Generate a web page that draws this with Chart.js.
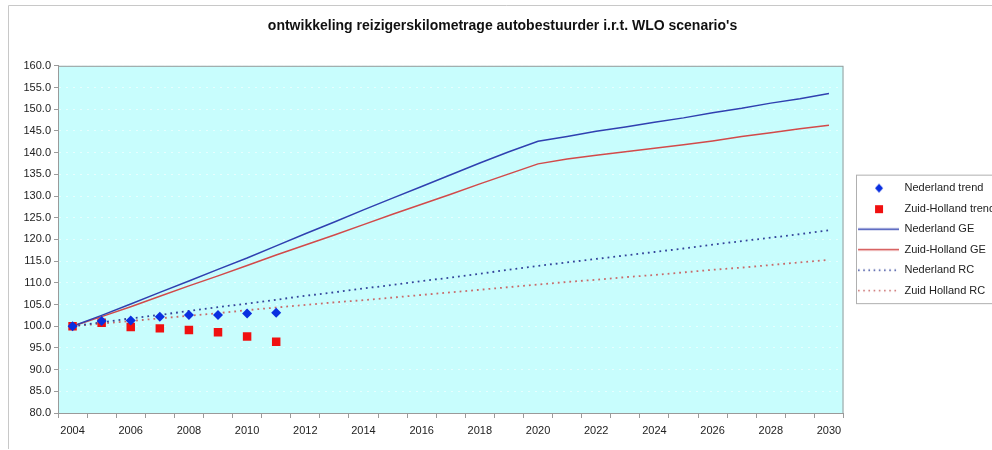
<!DOCTYPE html>
<html>
<head>
<meta charset="utf-8">
<script src="https://cdn.jsdelivr.net/npm/chart.js@4/dist/chart.umd.min.js"></script>
<style>
  html, body { margin: 0; padding: 0; background: #fff; overflow: hidden; }
  #wrap { position: relative; width: 1005px; height: 450px; }
</style>
</head>
<body>
<div id="wrap"><canvas id="wlo-chart"></canvas></div>
<script>
const years = [
  "2004", "2005", "2006", "2007", "2008", "2009", "2010", "2011", "2012",
  "2013", "2014", "2015", "2016", "2017", "2018", "2019", "2020", "2021",
  "2022", "2023", "2024", "2025", "2026", "2027", "2028", "2029", "2030",
];
const nederlandTrend = [100.0, 101.2, 101.3, 102.2, 102.6, 102.6, 102.9, 103.1];
const zuidHollandTrend = [100.0, 100.8, 99.8, 99.5, 99.1, 98.6, 97.6, 96.4];
const nederlandGE = [
  100.0, 102.5, 105.1, 107.8, 110.4, 113.1, 115.7, 118.5, 121.3,
  124.0, 126.8, 129.5, 132.2, 134.9, 137.6, 140.2, 142.6, 143.7,
  144.9, 145.9, 147.0, 148.0, 149.2, 150.2, 151.4, 152.4, 153.6,
];
const zuidHollandGE = [
  100.0, 102.2, 104.5, 106.9, 109.3, 111.6, 114.0, 116.4, 118.7,
  121.0, 123.4, 125.8, 128.1, 130.4, 132.8, 135.1, 137.4, 138.5,
  139.4, 140.2, 141.0, 141.8, 142.7, 143.7, 144.6, 145.5, 146.3,
];
const nederlandRC = [
  100.0, 100.9, 101.8, 102.6, 103.5, 104.4, 105.2, 106.1, 107.0,
  107.8, 108.7, 109.5, 110.4, 111.2, 112.1, 113.0, 113.9, 114.7,
  115.5, 116.3, 117.1, 117.9, 118.8, 119.6, 120.4, 121.2, 122.1,
];
const zuidHollandRC = [
  100.0, 100.6, 101.2, 101.8, 102.4, 103.0, 103.7, 104.3, 104.9,
  105.5, 106.0, 106.6, 107.2, 107.8, 108.4, 109.0, 109.6, 110.2,
  110.7, 111.3, 111.8, 112.4, 113.0, 113.5, 114.1, 114.7, 115.3,
];

// small canvases used as legend symbols (46 x 11)
function legendSymbol(kind, color) {
  const c = document.createElement("canvas");
  c.width = 46;
  c.height = 11;
  const g = c.getContext("2d");
  g.fillStyle = color;
  g.strokeStyle = color;
  if (kind === "diamond") {
    g.beginPath();
    g.moveTo(26, 1); g.lineTo(30, 5.5); g.lineTo(26, 10); g.lineTo(22, 5.5);
    g.closePath();
    g.fill();
  } else if (kind === "square") {
    g.fillRect(22, 2, 8, 8);
  } else {
    g.lineWidth = kind === "dotted" ? 1.6 : 1.5;
    if (kind === "dotted") g.setLineDash([1.6, 3.6]);
    g.beginPath();
    g.moveTo(5, 5.5);
    g.lineTo(46, 5.5);
    g.stroke();
  }
  return c;
}

const symbols = [
  legendSymbol("diamond", "#0a2fe0"),
  legendSymbol("square", "#f01010"),
  legendSymbol("line", "#3040b0"),
  legendSymbol("line", "#d24a4a"),
  legendSymbol("dotted", "#33449a"),
  legendSymbol("dotted", "#c86a6a"),
];

const frameAndPlot = {
  id: "frameAndPlot",
  beforeDraw(chart) {
    const { ctx, chartArea: a } = chart;
    ctx.save();
    ctx.strokeStyle = "#c8c8c8";
    ctx.lineWidth = 1;
    ctx.beginPath();
    ctx.moveTo(8.5, 449);
    ctx.lineTo(8.5, 5.5);
    ctx.lineTo(1004, 5.5);
    ctx.stroke();
    ctx.fillStyle = "#c8fdfd";
    ctx.fillRect(a.left, a.top, a.right - a.left, a.bottom - a.top);
    ctx.restore();
  },
  afterDatasetsDraw(chart) {
    const { ctx, chartArea: a } = chart;
    ctx.save();
    ctx.strokeStyle = "#9a9a9a";
    ctx.lineWidth = 1;
    ctx.strokeRect(a.left + 0.5, a.top + 0.5, a.right - a.left - 1, a.bottom - a.top);
    const boxes = chart.legend.legendHitBoxes;
    if (boxes && boxes.length) {
      const first = boxes[0];
      const last = boxes[boxes.length - 1];
      ctx.strokeStyle = "#b0b0b0";
      ctx.strokeRect(first.left + 3.5, first.top - 7.5, 200, last.top + last.height - first.top + 15);
    }
    ctx.restore();
  },
};

const ctx = document.getElementById("wlo-chart").getContext("2d");

new Chart(ctx, {
  type: "line",
  data: {
    labels: years,
    datasets: [
      {
        label: "Nederland trend",
        data: nederlandTrend,
        showLine: false,
        pointStyle: "rectRot",
        pointRadius: 5,
        backgroundColor: "#0a2fe0",
        borderColor: "#0a2fe0",
        borderWidth: 0,
      },
      {
        label: "Zuid-Holland trend",
        data: zuidHollandTrend,
        showLine: false,
        pointStyle: "rect",
        pointRadius: 6,
        backgroundColor: "#f01010",
        borderColor: "#f01010",
        borderWidth: 0,
      },
      {
        label: "Nederland GE",
        data: nederlandGE,
        borderColor: "#3040b0",
        borderWidth: 1.5,
        pointRadius: 0,
        fill: false,
      },
      {
        label: "Zuid-Holland GE",
        data: zuidHollandGE,
        borderColor: "#d24a4a",
        borderWidth: 1.5,
        pointRadius: 0,
        fill: false,
      },
      {
        label: "Nederland RC",
        data: nederlandRC,
        borderColor: "#33449a",
        borderWidth: 1.8,
        borderDash: [1.8, 4],
        pointRadius: 0,
        fill: false,
      },
      {
        label: "Zuid Holland RC",
        data: zuidHollandRC,
        borderColor: "#c86a6a",
        borderWidth: 1.8,
        borderDash: [1.8, 4],
        pointRadius: 0,
        fill: false,
      },
    ],
  },
  options: {
    responsive: true,
    maintainAspectRatio: false,
    animation: false,
    events: [],
    layout: { padding: { left: 0, right: 0, top: 0, bottom: 0 } },
    font: { family: "'Liberation Sans', Arial, sans-serif", size: 11 },
    plugins: {
      title: {
        display: true,
        text: "ontwikkeling reizigerskilometrage autobestuurder i.r.t. WLO scenario's",
        color: "#111",
        font: { family: "'Liberation Sans', Arial, sans-serif", size: 14, weight: "bold" },
        padding: { top: 18, bottom: 31 },
      },
      legend: {
        position: "right",
        fullSize: false,
        labels: {
          color: "#222",
          font: { family: "'Liberation Sans', Arial, sans-serif", size: 11 },
          usePointStyle: true,
          pointStyleWidth: 46,
          padding: 9.5,
          generateLabels(chart) {
            return chart.data.datasets.map((ds, i) => ({
              text: ds.label,
              pointStyle: symbols[i],
              fillStyle: "transparent",
              strokeStyle: "transparent",
              lineWidth: 0,
              fontColor: "#222",
              datasetIndex: i,
              hidden: false,
            }));
          },
        },
      },
      tooltip: { enabled: false },
    },
    scales: {
      x: {
        type: "category",
        offset: true,
        grid: {
          display: true,
          offset: true,
          drawOnChartArea: false,
          drawTicks: true,
          tickLength: 5,
          color: "#9a9a9a",
        },
        border: { color: "#9a9a9a" },
        ticks: {
          autoSkip: false,
          maxRotation: 0,
          padding: 6,
          color: "#222",
          font: { family: "'Liberation Sans', Arial, sans-serif", size: 11 },
          callback(value, index) {
            return index % 2 === 0 ? years[index] : "";
          },
        },
        afterFit(scale) {
          scale.height = 37;
        },
      },
      y: {
        min: 80,
        max: 160,
        grid: {
          color: "rgba(255,255,255,0.55)",
          lineWidth: 1,
          tickLength: 4,
          tickColor: "#9a9a9a",
          tickBorderDash: [],
        },
        border: { color: "#9a9a9a", dash: [2, 5] },
        ticks: {
          stepSize: 5,
          padding: 3,
          color: "#222",
          font: { family: "'Liberation Sans', Arial, sans-serif", size: 11 },
          callback(value) {
            return Number(value).toFixed(1);
          },
        },
        afterFit(scale) {
          scale.width = 58;
        },
      },
    },
  },
  plugins: [frameAndPlot],
});
</script>
</body>
</html>
